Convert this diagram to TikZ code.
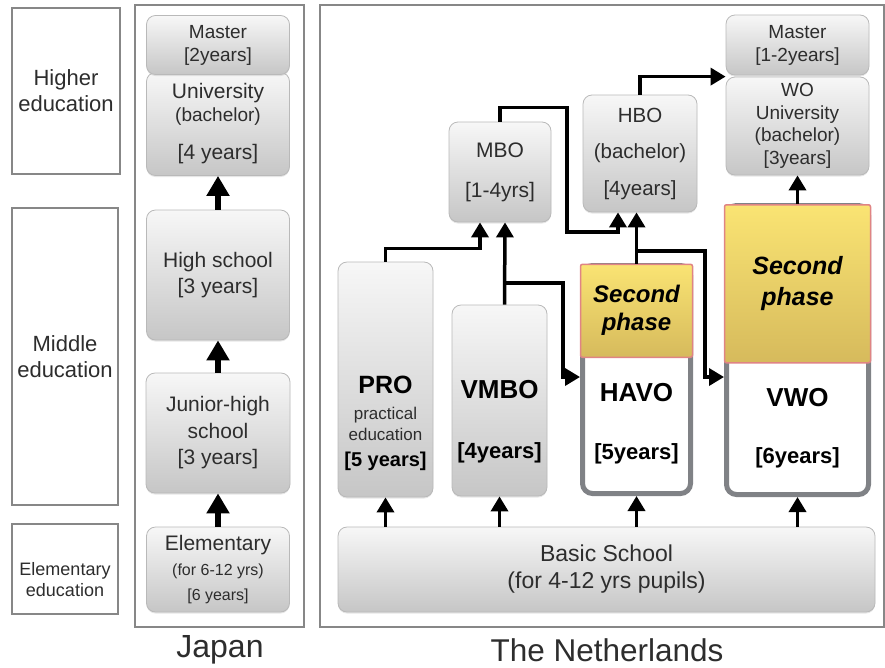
\documentclass[tikz,border=0pt]{standalone}
\usepackage{fontspec}
\setmainfont{Liberation Sans}
\usetikzlibrary{arrows.meta, shadows}

\definecolor{boxtop}{RGB}{247,247,247}
\definecolor{boxbottom}{RGB}{198,198,198}
\definecolor{boxline}{RGB}{185,185,185}
\definecolor{framegray}{RGB}{135,135,135}
\definecolor{trackgray}{RGB}{128,130,134}
\definecolor{phasetop}{RGB}{250,228,115}
\definecolor{phasebottom}{RGB}{214,186,92}
\definecolor{phaseline}{RGB}{224,132,132}
\definecolor{txtgray}{RGB}{45,45,45}

\newcommand{\fsz}[2]{\fontsize{#1}{#2}\selectfont}

\begin{document}
\begin{tikzpicture}[x=1pt, y=-1pt,
    levelbox/.style={draw=framegray, line width=1.2pt, fill=white, inner sep=0pt,
        text=txtgray, align=center},
    countrybox/.style={draw=framegray, line width=1.2pt, inner sep=0pt},
    edubox/.style={draw=boxline, line width=0.8pt, rounded corners=9pt,
        top color=boxtop, bottom color=boxbottom, inner sep=0pt,
        text=txtgray, align=center,
        drop shadow={shadow xshift=0pt, shadow yshift=-1.5pt, opacity=0.2}},
    track/.style={draw=trackgray, line width=5pt, fill=white,
        rounded corners=10pt, inner sep=0pt},
    phase/.style={draw=phaseline, line width=1.5pt, rounded corners=2pt,
        top color=phasetop, bottom color=phasebottom, inner sep=0pt,
        text=black, align=center},
    txt/.style={text=txtgray, align=center, inner sep=0pt},
    bold/.style={text=black, align=center, inner sep=0pt},
    flow/.style={line width=3.5pt, -{Triangle[length=15pt, width=17pt]}},
    jflow/.style={line width=5.5pt, -{Triangle[length=20pt, width=22pt]}},
]
\useasboundingbox (0,0) rectangle (885,667);

% levels of education
\node[levelbox, minimum width=108, minimum height=166, font=\fsz{22}{26}] (higher) at (66,91) {Higher\\education};
\node[levelbox, minimum width=106, minimum height=297, font=\fsz{22}{26}] (middle) at (65,356.5) {Middle\\education};
\node[levelbox, minimum width=106, minimum height=90] (elementary) at (65,569) {};
\node[txt, font=\fsz{18}{21}] (elementarytext) at (65,580) {Elementary\\education};

% countries
\node[countrybox, minimum width=169, minimum height=622] (japan) at (219.5,316) {};
\node[countrybox, minimum width=564, minimum height=622] (netherlands) at (602,316) {};
\node[txt, font=\fsz{32}{36}] (japanname) at (220,650) {Japan};
\node[txt, font=\fsz{31.5}{36}] (netherlandsname) at (607,650) {The Netherlands};

% Japan
\node[edubox, minimum width=143, minimum height=103, font=\fsz{21}{23}] (juni) at (218,124)
    {University\\{\fsz{19}{23}(bachelor)}\\[15pt]{}[4 years]};
\node[edubox, minimum width=143, minimum height=59, font=\fsz{19}{23}] (jmaster) at (218,45) {Master\\{}[2years]};
\node[edubox, minimum width=143, minimum height=130, font=\fsz{21}{26}] (jhigh) at (218,275) {High school\\{}[3 years]};
\node[edubox, minimum width=144, minimum height=120, font=\fsz{21}{26.5}] (jjunior) at (218,433) {Junior-high\\school\\{}[3 years]};
\node[edubox, minimum width=143, minimum height=85, font=\fsz{21}{25}] (jelem) at (218,569.5)
    {Elementary\\{\fsz{16}{20}(for 6-12 yrs)}\\{\fsz{16}{20}[6 years]}};

\draw[jflow] (jhigh.north) -- (juni.south);
\draw[jflow] (jjunior.north) -- (jhigh.south);
\draw[jflow] (jelem.north) -- (jjunior.south);

% the Netherlands
\node[edubox, minimum width=537, minimum height=85, font=\fsz{23}{27}] (basic) at (606.5,569.5) {Basic School\\(for 4-12 yrs pupils)};

\node[edubox, minimum width=95, minimum height=235] (pro) at (385.5,379.5) {};
\node[bold, font=\fsz{17}{21}] (protext) at (385.5,423)
    {{\fsz{25}{26}\bfseries PRO}\\[5pt]{\color{txtgray}practical}\\{\color{txtgray}education}\\[5pt]{\fsz{20}{24}\bfseries [5 years]}};

\node[edubox, minimum width=95, minimum height=191] (vmbo) at (499.5,400.5) {};
\node[bold, font=\fsz{26}{30}\bfseries] (vmbotext) at (499.5,422) {VMBO\\[30pt]{\fsz{22}{26}[4years]}};

\node[track, minimum width=108, minimum height=228] (havo) at (636.5,379.5) {};
\node[phase, minimum width=112, minimum height=93, anchor=north, font=\fsz{24}{28}\bfseries\itshape] (havophase) at (636.5,263.5) {Second\\phase};
\node[bold, font=\fsz{26}{30}\bfseries] (havotext) at (636.5,424) {HAVO\\[28pt]{\fsz{22}{26}[5years]}};

\node[track, minimum width=142, minimum height=289] (vwo) at (797.5,350) {};
\node[phase, minimum width=146, minimum height=158, anchor=north, font=\fsz{25}{31}\bfseries\itshape] (vwophase) at (797.5,204) {Second\\phase};
\node[bold, font=\fsz{26}{30}\bfseries] (vwotext) at (797.5,428.5) {VWO\\[27pt]{\fsz{22}{26}[6years]}};

\node[edubox, minimum width=102, minimum height=100, font=\fsz{21}{40}] (mbo) at (500,172) {MBO\\{}[1-4yrs]};
\node[edubox, minimum width=114, minimum height=117, font=\fsz{20.5}{36.5}] (hbo) at (640,153.5) {HBO\\(bachelor)\\{}[4years]};
\node[edubox, minimum width=143, minimum height=98, font=\fsz{19}{22.5}] (wo) at (797.5,126) {WO\\University\\(bachelor)\\{}[3years]};
\node[edubox, minimum width=143, minimum height=60, font=\fsz{19}{23}] (nlmaster) at (797.5,45) {Master\\{}[1-2years]};

% routes between the school types
\coordinate (vmbofork) at (505,283);
\coordinate (havofork) at (636.5,251);
\coordinate (havoin) at (580,377);
\coordinate (vwoin) at (724,377);

\foreach \school in {pro, vmbo, havo, vwo}
    \draw[flow] (basic.north -| \school.south) -- (\school.south);

\draw[flow] (pro.north) -- ++(0,-13) -| ([xshift=-20pt]mbo.south);
\draw[flow] ([xshift=5pt]vmbo.north) -- ([xshift=5pt]mbo.south);
\draw[flow] (vmbofork) -| (563,377) -- (havoin);
\draw[flow] (mbo.north) -- ++(0,-14) -| (567,232) -| ([xshift=-22pt]hbo.south);
\draw[flow] (havophase.north) -- (havophase.north |- hbo.south);
\draw[flow] (havofork) -| (705,377) -- (vwoin);
\draw[flow] (hbo.north) |- (wo.north west);
\draw[flow] (vwophase.north) -- (wo.south);
\end{tikzpicture}
\end{document}
